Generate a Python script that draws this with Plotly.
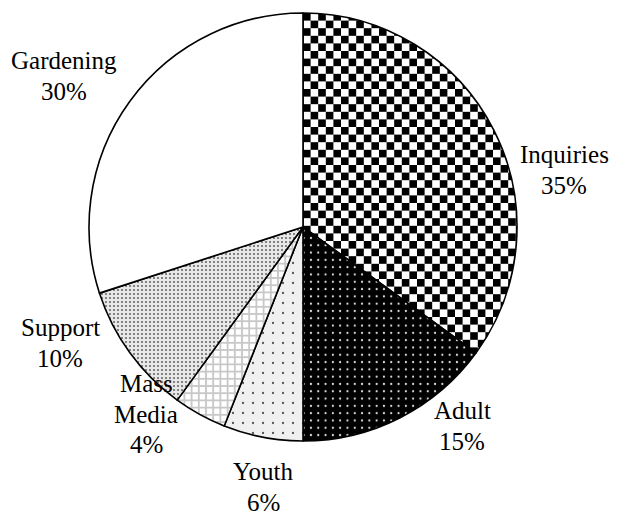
import base64
import plotly.graph_objects as go

labels = ["Inquiries", "Adult", "Youth", "Mass<br>Media", "Support", "Gardening"]
values = [35, 15, 6, 4, 10, 30]

W, H = 617, 518
OFF = 8  # page body margin pushes the figure 8px right and down
CX, CY, R = 303 - OFF, 227 - OFF, 214  # pie centre / radius in px
LINE = 30.5  # label line spacing, px

# label centres in px (text only, not marks)
label_xy = [(564, 170), (462, 426), (263, 487), (146, 414), (60, 343), (64, 76)]

# Plotly patterns have no checkerboard, so the Inquiries slice is left
# transparent and a checkerboard disc sits underneath it as a layout image.
sq = 7.6
svg = (
    f"<svg xmlns='http://www.w3.org/2000/svg' width='{2*R}' height='{2*R}' viewBox='0 0 {2*R} {2*R}'>"
    f"<defs><pattern id='c' x='{R}' y='0' width='{2*sq}' height='{2*sq}' patternUnits='userSpaceOnUse'>"
    f"<rect width='{2*sq}' height='{2*sq}' fill='white'/>"
    f"<rect width='{sq}' height='{sq}' fill='black'/>"
    f"<rect x='{sq}' y='{sq}' width='{sq}' height='{sq}' fill='black'/>"
    f"</pattern></defs><circle cx='{R}' cy='{R}' r='{R}' fill='url(#c)'/></svg>"
)
checker_src = "data:image/svg+xml;base64," + base64.b64encode(svg.encode()).decode()

fig = go.Figure()
fig.add_trace(go.Pie(
    labels=labels,
    values=values,
    sort=False,
    direction="clockwise",
    rotation=0,
    textinfo="none",
    hoverinfo="label+percent",
    marker=dict(
        colors=["rgba(0,0,0,0)", "black", "#f0f0f0", "white", "#e8e8e8", "white"],
        line=dict(color="black", width=1.6),
        pattern=dict(
            shape=["", ".", ".", "+", ".", ""],
            fgcolor=["black", "#e0e0e0", "#555555", "#c8c8c8", "#555555", "white"],
            bgcolor=["rgba(0,0,0,0)", "black", "#f0f0f0", "white", "#e8e8e8", "white"],
            size=[10, 7.3, 10, 7.2, 4, 10],
            solidity=[0.1, 0.07, 0.04, 0.45, 0.17, 0.1],
            fillmode="replace",
        ),
    ),
    showlegend=False,
    domain=dict(x=[(CX - R) / W, (CX + R) / W], y=[1 - (CY + R) / H, 1 - (CY - R) / H]),
))

fig.add_layout_image(
    source=checker_src,
    xref="paper", yref="paper",
    x=(CX - R) / W, y=1 - (CY - R) / H,
    sizex=2 * R / W, sizey=2 * R / H,
    xanchor="left", yanchor="top",
    sizing="stretch",
    layer="below",
)

# one annotation per text line so the line spacing can match the original
for lab, val, (px, py) in zip(labels, values, label_xy):
    lines = lab.split("<br>") + [f"{val}%"]
    top = py - LINE * (len(lines) - 1) / 2
    for i, txt in enumerate(lines):
        fig.add_annotation(
            x=(px - OFF) / W, y=1 - (top + i * LINE - OFF) / H,
            xref="paper", yref="paper",
            text=txt,
            showarrow=False,
            xanchor="center", yanchor="middle",
            font=dict(family="Liberation Serif", size=25, color="black"),
        )

fig.update_layout(
    width=W,
    height=H,
    margin=dict(l=0, r=0, t=0, b=0),
    paper_bgcolor="white",
    plot_bgcolor="white",
)

fig.write_html("out.html")
